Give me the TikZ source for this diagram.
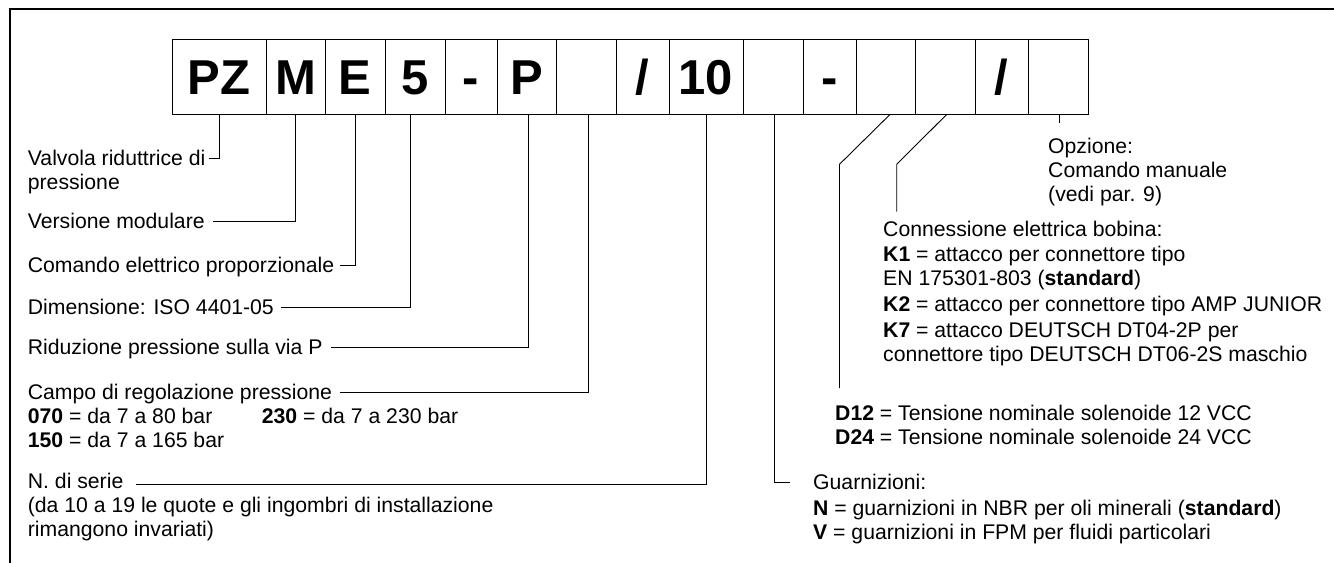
\documentclass[tikz,border=0pt]{standalone}
\usepackage{fontspec}
\setmainfont{Liberation Sans}
\begin{document}
\begin{tikzpicture}[x=1pt,y=-1pt,
  bx/.style={draw, line width=0.9pt, minimum height=75pt, inner sep=0pt, text height=35.6pt, text depth=0pt, font=\fontsize{49}{49}\bfseries\selectfont},
  lb/.style={anchor=west, inner sep=0pt, text height=15.2pt, text depth=0pt, font=\fontsize{21.2}{24}\selectfont},
  ln/.style={line width=0.9pt},
  frame/.style={line width=1.2pt}]
\useasboundingbox (0,0) rectangle (1334,563);
% frame
\coordinate (fbl) at (10,563);
\coordinate (ftl) at (10,9);
\coordinate (ftr) at (1334,9);
\draw[frame] (fbl) -- (ftl) -- (ftr);
% code boxes
\node[bx, minimum width=94pt] (b1) at (219,76.5) {PZ};
\node[bx, minimum width=59pt] (b2) at (295.5,76.5) {M};
\node[bx, minimum width=60pt] (b3) at (355,76.5) {E};
\node[bx, minimum width=60pt] (b4) at (415,76.5) {5};
\node[bx, minimum width=52pt] (b5) at (471,76.5) {-};
\node[bx, minimum width=59pt] (b6) at (526.5,76.5) {P};
\node[bx, minimum width=60pt] (b7) at (586,76.5) {};
\node[bx, minimum width=53pt] (b8) at (642.5,76.5) {/};
\node[bx, minimum width=74pt] (b9) at (706,76.5) {10};
\node[bx, minimum width=60pt] (b10) at (773,76.5) {};
\node[bx, minimum width=53pt] (b11) at (829.5,76.5) {-};
\node[bx, minimum width=59pt] (b12) at (885.5,76.5) {};
\node[bx, minimum width=60pt] (b13) at (945,76.5) {};
\node[bx, minimum width=53pt] (b14) at (1001.5,76.5) {/};
\node[bx, minimum width=60pt] (b15) at (1058,76.5) {};
% left labels
\node[lb] (valv) at (27.7,158) {Valvola riduttrice di};
\node[lb] (valv2) at (27.7,182) {pressione};
\node[lb] (vers) at (27.7,221) {Versione modulare};
\node[lb] (com) at (27.7,265) {Comando elettrico proporzionale};
\node[lb] (dim) at (27.7,307) {Dimensione: ISO 4401-05};
\node[lb] (rid) at (27.7,347) {Riduzione pressione sulla via P};
\node[lb] (campo) at (27.7,392) {Campo di regolazione pressione};
\node[lb] (c070) at (27.7,416) {\textbf{070} = da 7 a 80 bar};
\node[lb] (c230) at (261.7,416) {\textbf{230} = da 7 a 230 bar};
\node[lb] (c150) at (27.7,440) {\textbf{150} = da 7 a 165 bar};
\node[lb] (ser) at (27.7,481) {N. di serie};
\node[lb] (ser2) at (27.7,505) {(da 10 a 19 le quote e gli ingombri di installazione};
\node[lb] (ser3) at (27.7,529) {rimangono invariati)};
% right labels
\node[lb] (opz1) at (1048,146) {Opzione:};
\node[lb] (opz2) at (1048,170) {Comando manuale};
\node[lb] (opz3) at (1048,194) {(vedi par. 9)};
\node[lb] (con) at (883,229) {Connessione elettrica bobina:};
\node[lb] (k1t) at (883,254) {\textbf{K1} = attacco per connettore tipo};
\node[lb] (k1u) at (883,278) {EN 175301-803 (\textbf{standard})};
\node[lb] (k2t) at (883,304) {\textbf{K2} = attacco per connettore tipo AMP JUNIOR};
\node[lb] (k7t) at (883,330) {\textbf{K7} = attacco DEUTSCH DT04-2P per};
\node[lb] (k7u) at (883,354) {connettore tipo DEUTSCH DT06-2S maschio};
\node[lb] (d12) at (835,413) {\textbf{D12} = Tensione nominale solenoide 12 VCC};
\node[lb] (d24) at (835,437) {\textbf{D24} = Tensione nominale solenoide 24 VCC};
\node[lb] (guar) at (813,482) {Guarnizioni:};
\node[lb] (gn) at (813,508) {\textbf{N} = guarnizioni in NBR per oli minerali (\textbf{standard})};
\node[lb] (gv) at (813,532) {\textbf{V} = guarnizioni in FPM per fluidi particolari};
% connectors
\draw[ln] (b1.south) |- ([xshift=3pt]valv.east);
\draw[ln] (b2.south) |- ([xshift=8pt]vers.east);
\draw[ln] (b3.south) |- ([xshift=6pt]com.east);
\draw[ln] ([xshift=-5pt]b4.south) |- ([xshift=7pt]dim.east);
\draw[ln] ([xshift=1.5pt]b6.south) |- ([xshift=8pt]rid.east);
\draw[ln] ([xshift=2pt]b7.south) |- ([xshift=8pt]campo.east);
\draw[ln] (b9.south) |- ([xshift=12pt,yshift=-3pt]ser.east);
\draw[ln] ([xshift=1pt]b10.south) |- ([xshift=-23pt]guar.west);
\coordinate (d1) at (839.5,164.3);
\coordinate (d2) at (839.5,388);
\draw[ln] ([xshift=4.5pt]b12.south) -- (d1) -- (d2);
\coordinate (k1) at (896.7,164.3);
\coordinate (k2) at (896.7,211.7);
\draw[ln] ([xshift=1.7pt]b13.south) -- (k1) -- (k2);
\coordinate (o1) at (1059,123);
\draw[ln] ([xshift=1pt]b15.south) -- (o1);
\end{tikzpicture}
\end{document}
